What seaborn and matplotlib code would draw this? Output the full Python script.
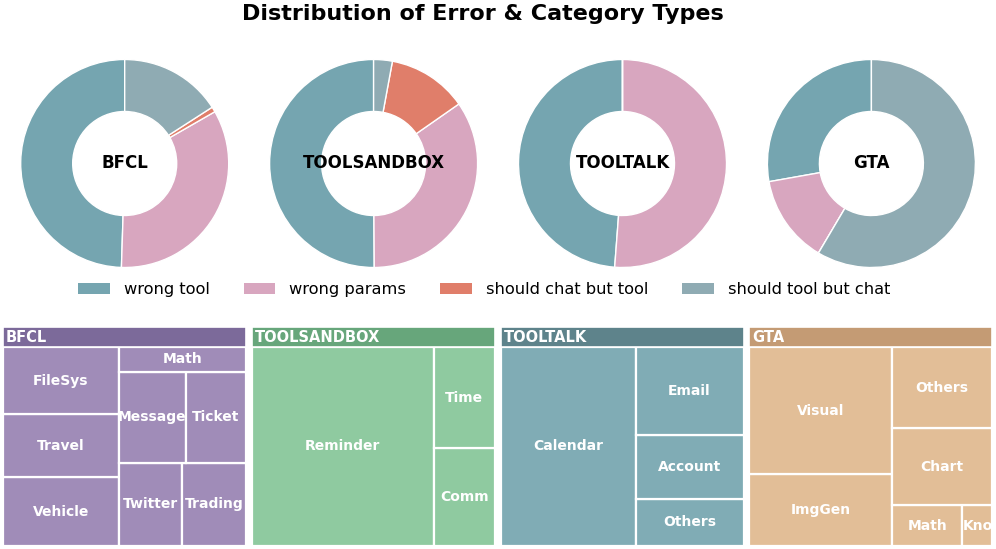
import matplotlib
matplotlib.use("Agg")
import matplotlib.pyplot as plt
from matplotlib.patches import Rectangle
import seaborn as sns

# ---------------- data ----------------
datasets = ["BFCL", "TOOLSANDBOX", "TOOLTALK", "GTA"]
error_types = ["wrong tool", "wrong params", "should chat but tool", "should tool but chat"]

bfcl_errors = [49.5, 33.8, 0.8, 15.9]
toolsandbox_errors = [50.1, 34.6, 12.4, 2.9]
tooltalk_errors = [48.8, 51.2, 0.0, 0.0]
gta_errors = [27.8, 13.7, 0.0, 58.5]

bfcl_cats = ["Vehicle", "Travel", "FileSys", "Twitter", "Trading", "Message", "Ticket", "Math"]
bfcl_vals = [16.5, 15.2, 16.2, 10.85, 10.85, 12.6, 11.4, 6.35]
toolsandbox_cats = ["Reminder", "Comm", "Time"]
toolsandbox_vals = [74.9, 12.35, 12.75]
tooltalk_cats = ["Calendar", "Others", "Account", "Email"]
tooltalk_vals = [55.6, 10.5, 14.2, 19.7]
gta_cats = ["ImgGen", "Visual", "Math", "Knowledge", "Chart", "Others"]
gta_vals = [21.2, 37.4, 5.9, 2.5, 16.2, 16.8]

error_colors = ["#75a5b0", "#d8a6bf", "#e07e6a", "#8fabb3"]
cell_colors = ["#a08cb8", "#8fcaa0", "#80acb5", "#e2be97"]
header_colors = ["#7c6a9a", "#67a67b", "#5e838b", "#c49b74"]

all_errors = [bfcl_errors, toolsandbox_errors, tooltalk_errors, gta_errors]
all_cats = [bfcl_cats, toolsandbox_cats, tooltalk_cats, gta_cats]
all_vals = [bfcl_vals, toolsandbox_vals, tooltalk_vals, gta_vals]

# ---------------- squarify layout ----------------
def _layout(sizes, x, y, dx, dy):
    tot = sum(sizes)
    rects = []
    if dx >= dy:
        w = tot / dy
        cy = y
        for s in sizes:
            h = s / w
            rects.append((x, cy, w, h))
            cy += h
    else:
        h = tot / dx
        cx = x
        for s in sizes:
            w = s / h
            rects.append((cx, y, w, h))
            cx += w
    return rects

def _leftover(sizes, x, y, dx, dy):
    tot = sum(sizes)
    if dx >= dy:
        w = tot / dy
        return x + w, y, dx - w, dy
    h = tot / dx
    return x, y + h, dx, dy - h

def _worst(sizes, x, y, dx, dy):
    return max(max(r[2] / r[3], r[3] / r[2]) for r in _layout(sizes, x, y, dx, dy))

def squarify(sizes, x, y, dx, dy):
    if not sizes:
        return []
    if len(sizes) == 1:
        return _layout(sizes, x, y, dx, dy)
    i = 1
    while i < len(sizes) and _worst(sizes[:i], x, y, dx, dy) >= _worst(sizes[:i + 1], x, y, dx, dy):
        i += 1
    cur, rem = sizes[:i], sizes[i:]
    lx, ly, ldx, ldy = _leftover(cur, x, y, dx, dy)
    return _layout(cur, x, y, dx, dy) + squarify(rem, lx, ly, ldx, ldy)

# ---------------- figure ----------------
sns.set_theme(style="white")
plt.rcParams["font.family"] = ["DejaVu Sans"]
plt.rcParams["text.color"] = "black"

W, H = 996, 549
fig = plt.figure(figsize=(W / 100, H / 100), dpi=100)

def fx(px):
    return px / W

def fy(py):
    return 1 - py / H

panel_w = 243.0
panel_lefts = [2.7 + 248.9 * i for i in range(4)]

fig.text(fx(482.5), fy(19.5), "Distribution of Error & Category Types",
         ha="center", va="baseline", fontsize=16, fontweight="bold", color="black")

# donuts
R = 104.0
cy_px = 163.5
for i, name in enumerate(datasets):
    cx_px = panel_lefts[i] + panel_w / 2 + 0.5
    half = 108.0
    ax = fig.add_axes([fx(cx_px - half), fy(cy_px + half), fx(2 * half), 2 * half / H])
    ax.pie(all_errors[i], colors=error_colors, startangle=90, counterclock=True,
           radius=1.0, wedgeprops=dict(width=0.5, edgecolor="white", linewidth=1.0))
    lim = half / R
    ax.set_xlim(-lim, lim)
    ax.set_ylim(-lim, lim)
    ax.set_aspect("equal")
    ax.axis("off")
    ax.text(0, 0, name, ha="center", va="center", fontsize=12, fontweight="bold", color="black")

# legend
handles = [Rectangle((0, 0), 1, 1, facecolor=c, edgecolor="none") for c in error_colors]
leg = fig.legend(handles, error_types, loc="center", bbox_to_anchor=(fx(484.0), fy(289.5)),
                 ncol=4, frameon=False, fontsize=11.7, handlelength=1.95, handleheight=0.65,
                 columnspacing=2.1, handletextpad=0.85)
for t in leg.get_texts():
    t.set_color("black")

# treemaps
top_px, head_bot_px, bot_px = 327.3, 347.3, 545.7
content_h = bot_px - head_bot_px
ymax = 100 * (bot_px - top_px) / content_h
renderer = fig.canvas.get_renderer()
for i, name in enumerate(datasets):
    ax = fig.add_axes([fx(panel_lefts[i]), fy(bot_px), fx(panel_w), (bot_px - top_px) / H])
    ax.set_xlim(0, 100)
    ax.set_ylim(0, ymax)
    ax.axis("off")
    vals = all_vals[i]
    tot = sum(vals)
    sizes = [v * 10000.0 / tot for v in vals]
    rects = squarify(sizes, 0, 0, 100, 100)
    for (x, y, w, h), lab in zip(rects, all_cats[i]):
        ax.add_patch(Rectangle((x, y), w, h, facecolor=cell_colors[i], edgecolor="white", linewidth=1.6))
        t = ax.text(x + w / 2, y + h / 2, lab, ha="center", va="center", fontsize=10,
                    fontweight="bold", color="white")
        cell_px = w / 100 * panel_w
        txt = lab
        while len(txt) > 1 and t.get_window_extent(renderer).width > cell_px * 1.08:
            txt = txt[:-1]
            t.set_text(txt)
    ax.add_patch(Rectangle((0, 100), 100, ymax - 100, facecolor=header_colors[i],
                           edgecolor="white", linewidth=1.2))
    ax.text(1.2, (100 + ymax) / 2, name, ha="left", va="center", fontsize=10.5,
            fontweight="bold", color="white")

fig.savefig("out.png", dpi=100)
